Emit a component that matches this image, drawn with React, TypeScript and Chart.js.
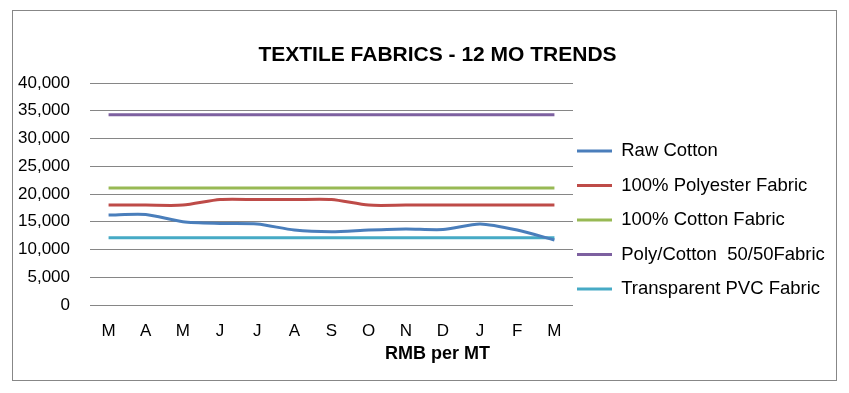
import React, { useEffect, useRef } from "react";
import { Chart, registerables } from "chart.js";

Chart.register(...registerables);

const months = ["M", "A", "M", "J", "J", "A", "S", "O", "N", "D", "J", "F", "M"];
const rawCotton = [16200, 16300, 15000, 14700, 14600, 13500, 13200, 13500, 13700, 13600, 14600, 13500, 11700];
const polyesterFabric = [18000, 18000, 18000, 19000, 19000, 19000, 19000, 18000, 18000, 18000, 18000, 18000, 18000];
const cottonFabric = [21100, 21100, 21100, 21100, 21100, 21100, 21100, 21100, 21100, 21100, 21100, 21100, 21100];
const polyCottonFabric = [34300, 34300, 34300, 34300, 34300, 34300, 34300, 34300, 34300, 34300, 34300, 34300, 34300];
const pvcFabric = [12100, 12100, 12100, 12100, 12100, 12100, 12100, 12100, 12100, 12100, 12100, 12100, 12100];
const seriesNames = ["Raw Cotton", "100% Polyester Fabric", "100% Cotton Fabric", "Poly/Cotton  50/50Fabric", "Transparent PVC Fabric"];
const seriesColors = ["#4A7EBB", "#BE4B48", "#98B954", "#7D60A0", "#46AAC5"];
const titleText = "TEXTILE FABRICS - 12 MO TRENDS";
const xTitleText = "RMB per MT";

const textPlugin = {
  id: "textPlugin",
  afterLayout(chart: any) {
    if (chart.legend) {
      chart.legend.left -= 12;
    }
  },
  afterDraw(chart: any) {
    const ctx = chart.ctx;
    const cx = chart.width / 2 + 13;
    ctx.save();
    ctx.fillStyle = "#000";
    ctx.textAlign = "center";
    ctx.textBaseline = "middle";
    ctx.font = "bold 21px 'Liberation Sans', Arial, sans-serif";
    ctx.fillText(titleText, cx, 44);
    ctx.font = "bold 18px 'Liberation Sans', Arial, sans-serif";
    ctx.fillText(xTitleText, cx, chart.chartArea.bottom + 49);
    ctx.restore();
  },
};

export default function App() {
  const ref = useRef<HTMLCanvasElement>(null);
  useEffect(() => {
    if (!ref.current) return;
    const data = [rawCotton, polyesterFabric, cottonFabric, polyCottonFabric, pvcFabric];
    const chart = new Chart(ref.current, {
      type: "line",
      data: {
        labels: months,
        datasets: data.map((d, i) => ({
          label: seriesNames[i],
          data: d,
          borderColor: seriesColors[i],
          backgroundColor: seriesColors[i],
          borderWidth: 3,
          pointRadius: 0,
          tension: 0.25,
          fill: false,
        })),
      },
      options: {
        animation: false,
        responsive: false,
        maintainAspectRatio: false,
        layout: { padding: { top: 72, bottom: 23, left: 0, right: 0 } },
        plugins: {
          title: { display: false },
          tooltip: { enabled: false },
          legend: {
            position: "right",
            align: "center",
            maxWidth: 263,
            labels: {
              usePointStyle: true,
              pointStyle: "line",
              pointStyleWidth: 35,
              boxHeight: 18,
              padding: 16,
              color: "#000",
              font: { family: "'Liberation Sans', Arial, sans-serif", size: 18.5 },
            },
          },
        },
        scales: {
          x: {
            offset: true,
            grid: { display: false, drawTicks: false },
            border: { display: false },
            ticks: {
              padding: 16,
              color: "#000",
              maxRotation: 0,
              autoSkip: false,
              font: { family: "'Liberation Sans', Arial, sans-serif", size: 17 },
            },
            afterFit: (scale: any) => {
              scale.height = 52;
            },
          },
          y: {
            min: 0,
            max: 40000,
            grid: { color: "#868686", lineWidth: 1, drawTicks: false },
            border: { display: false },
            ticks: {
              stepSize: 5000,
              padding: 20,
              color: "#000",
              font: { family: "'Liberation Sans', Arial, sans-serif", size: 17 },
              callback: (v: any) => Number(v).toLocaleString("en-US"),
            },
            afterFit: (scale: any) => {
              scale.width = 77;
            },
          },
        },
      },
      plugins: [textPlugin],
    });
    return () => chart.destroy();
  }, []);
  return (
    <div
      style={{
        position: "absolute",
        left: 12,
        top: 10,
        width: 823,
        height: 369,
        border: "1px solid #878787",
        background: "#fff",
      }}
    >
      <canvas ref={ref} width={823} height={369} style={{ display: "block", width: 823, height: 369 }} />
    </div>
  );
}
